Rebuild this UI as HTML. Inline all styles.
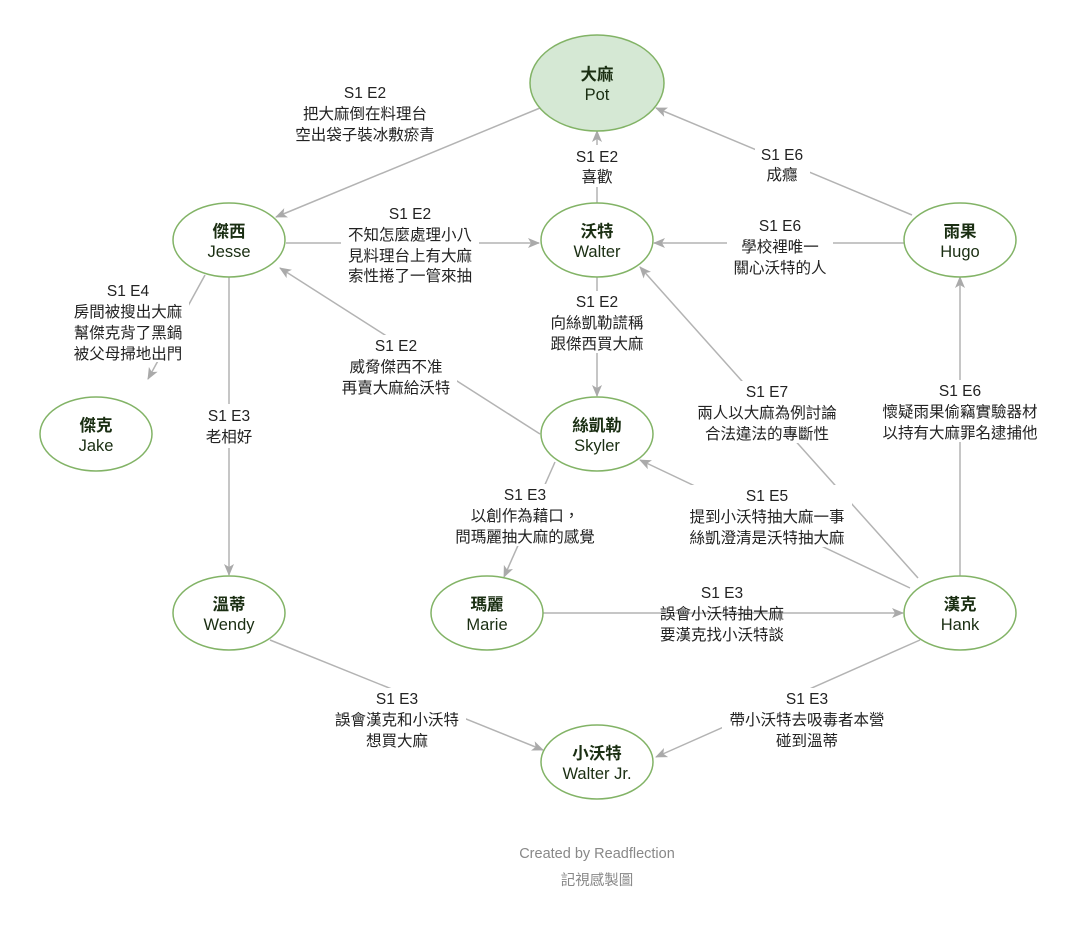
<!DOCTYPE html>
<html><head><meta charset="utf-8"><style>
html,body{margin:0;padding:0;background:#fff}
svg{display:block}
text{font-family:"Liberation Sans","Noto Sans CJK TC",sans-serif;fill:#222;font-size:15.5px;text-anchor:middle}
.n1{font-size:16.5px;font-weight:bold;fill:#1a2e12}
.n2{font-size:16.5px;fill:#1a2e12}
.f{fill:#888;font-size:14.5px}
</style></head><body>
<svg width="1080" height="938" viewBox="0 0 1080 938" xmlns="http://www.w3.org/2000/svg">
<defs><marker id="a" markerWidth="12" markerHeight="10" refX="11" refY="5" orient="auto" markerUnits="userSpaceOnUse"><path d="M0,0 L12,5 L0,10 L3,5 Z" fill="#aaa"/></marker></defs>
<g stroke="#b3b3b3" stroke-width="1.5" fill="none" marker-end="url(#a)">
<line x1="540" y1="108" x2="276" y2="217"/>
<line x1="597" y1="203" x2="597" y2="131"/>
<line x1="912" y1="215" x2="656" y2="108"/>
<line x1="286" y1="243" x2="539" y2="243"/>
<line x1="904" y1="243" x2="654" y2="243"/>
<line x1="205" y1="275" x2="148" y2="379"/>
<line x1="229" y1="277" x2="229" y2="575"/>
<line x1="540" y1="434" x2="280" y2="268"/>
<line x1="597" y1="277" x2="597" y2="396"/>
<line x1="918" y1="578" x2="640" y2="267"/>
<line x1="555" y1="462" x2="504" y2="577"/>
<line x1="910" y1="588" x2="640" y2="460"/>
<line x1="543" y1="613" x2="903" y2="613"/>
<line x1="960" y1="576" x2="960" y2="277"/>
<line x1="270" y1="640" x2="543" y2="750"/>
<line x1="920" y1="640" x2="656" y2="757"/>
</g>
<g fill="#fff">
<rect x="288" y="84" width="154" height="60"/>
<rect x="572" y="145" width="50" height="42"/>
<rect x="755" y="143" width="55" height="42"/>
<rect x="341" y="202" width="138" height="82"/>
<rect x="727" y="214" width="106" height="64"/>
<rect x="67" y="282" width="122" height="80"/>
<rect x="200" y="404" width="58" height="44"/>
<rect x="335" y="335" width="122" height="62"/>
<rect x="544" y="291" width="106" height="62"/>
<rect x="690" y="381" width="154" height="62"/>
<rect x="448" y="484" width="154" height="62"/>
<rect x="682" y="485" width="170" height="62"/>
<rect x="875" y="380" width="170" height="62"/>
<rect x="328" y="688" width="138" height="62"/>
<rect x="722" y="688" width="170" height="62"/>
</g>
<g stroke="#82b366" stroke-width="1.5" fill="#fff">
<ellipse cx="597" cy="83" rx="67" ry="48" fill="#d5e8d4"/>
<ellipse cx="229" cy="240" rx="56" ry="37"/>
<ellipse cx="597" cy="240" rx="56" ry="37"/>
<ellipse cx="960" cy="240" rx="56" ry="37"/>
<ellipse cx="96" cy="434" rx="56" ry="37"/>
<ellipse cx="597" cy="434" rx="56" ry="37"/>
<ellipse cx="229" cy="613" rx="56" ry="37"/>
<ellipse cx="487" cy="613" rx="56" ry="37"/>
<ellipse cx="960" cy="613" rx="56" ry="37"/>
<ellipse cx="597" cy="762" rx="56" ry="37"/>
</g>
<text class="n1" x="597" y="80">大麻</text><text class="n2" x="597" y="100">Pot</text>
<text class="n1" x="229" y="237">傑西</text><text class="n2" x="229" y="257">Jesse</text>
<text class="n1" x="597" y="237">沃特</text><text class="n2" x="597" y="257">Walter</text>
<text class="n1" x="960" y="237">雨果</text><text class="n2" x="960" y="257">Hugo</text>
<text class="n1" x="96" y="431">傑克</text><text class="n2" x="96" y="451">Jake</text>
<text class="n1" x="597" y="431">絲凱勒</text><text class="n2" x="597" y="451">Skyler</text>
<text class="n1" x="229" y="610">溫蒂</text><text class="n2" x="229" y="630">Wendy</text>
<text class="n1" x="487" y="610">瑪麗</text><text class="n2" x="487" y="630">Marie</text>
<text class="n1" x="960" y="610">漢克</text><text class="n2" x="960" y="630">Hank</text>
<text class="n1" x="597" y="759">小沃特</text><text class="n2" x="597" y="779">Walter Jr.</text>

<text x="365" y="98">S1 E2</text><text x="365" y="119">把大麻倒在料理台</text><text x="365" y="140">空出袋子裝冰敷瘀青</text>
<text x="597" y="162">S1 E2</text><text x="597" y="182">喜歡</text>
<text x="782" y="160">S1 E6</text><text x="782" y="180">成癮</text>
<text x="410" y="219">S1 E2</text><text x="410" y="240">不知怎麼處理小八</text><text x="410" y="261">見料理台上有大麻</text><text x="410" y="281">索性捲了一管來抽</text>
<text x="780" y="231">S1 E6</text><text x="780" y="252">學校裡唯一</text><text x="780" y="273">關心沃特的人</text>
<text x="128" y="296">S1 E4</text><text x="128" y="317">房間被搜出大麻</text><text x="128" y="338">幫傑克背了黑鍋</text><text x="128" y="359">被父母掃地出門</text>
<text x="229" y="421">S1 E3</text><text x="229" y="442">老相好</text>
<text x="396" y="351">S1 E2</text><text x="396" y="372">威脅傑西不准</text><text x="396" y="393">再賣大麻給沃特</text>
<text x="597" y="307">S1 E2</text><text x="597" y="328">向絲凱勒謊稱</text><text x="597" y="349">跟傑西買大麻</text>
<text x="767" y="397">S1 E7</text><text x="767" y="418">兩人以大麻為例討論</text><text x="767" y="439">合法違法的專斷性</text>
<text x="525" y="500">S1 E3</text><text x="525" y="521">以創作為藉口，</text><text x="525" y="542">問瑪麗抽大麻的感覺</text>
<text x="767" y="501">S1 E5</text><text x="767" y="522">提到小沃特抽大麻一事</text><text x="767" y="543">絲凱澄清是沃特抽大麻</text>
<text x="722" y="598">S1 E3</text><text x="722" y="619">誤會小沃特抽大麻</text><text x="722" y="640">要漢克找小沃特談</text>
<text x="960" y="396">S1 E6</text><text x="960" y="417">懷疑雨果偷竊實驗器材</text><text x="960" y="438">以持有大麻罪名逮捕他</text>
<text x="397" y="704">S1 E3</text><text x="397" y="725">誤會漢克和小沃特</text><text x="397" y="746">想買大麻</text>
<text x="807" y="704">S1 E3</text><text x="807" y="725">帶小沃特去吸毒者本營</text><text x="807" y="746">碰到溫蒂</text>
<text class="f" x="597" y="858">Created by Readflection</text>
<text class="f" x="597" y="885">記視感製圖</text>
</svg>
</body></html>
